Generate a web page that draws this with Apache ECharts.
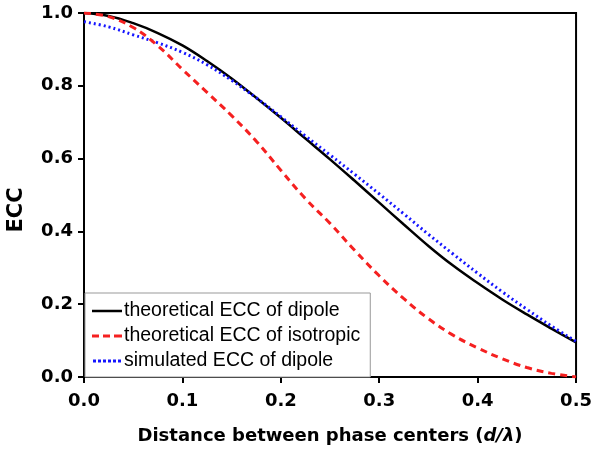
<!DOCTYPE html>
<html>
<head>
<meta charset="utf-8">
<script src="https://cdn.jsdelivr.net/npm/echarts@6/dist/echarts.min.js"></script>
<style>
  html, body { margin: 0; padding: 0; background: #fff; }
  #chart { width: 595px; height: 453px; }
</style>
</head>
<body>
<div id="chart"></div>
<script>
// distance between phase centers, d/lambda
const distance = [0, 0.025, 0.05, 0.075, 0.1, 0.125, 0.15, 0.175, 0.2, 0.225, 0.25,
  0.275, 0.3, 0.325, 0.35, 0.375, 0.4, 0.425, 0.45, 0.475, 0.5]
const eccDipole = [1.0, 0.992, 0.972, 0.945, 0.911, 0.868, 0.82, 0.767, 0.712, 0.655, 0.598,
  0.539, 0.479, 0.419, 0.36, 0.306, 0.258, 0.213, 0.172, 0.133, 0.095]
const eccIsotropic = [1.0, 0.99, 0.96, 0.91, 0.845, 0.782, 0.718, 0.648, 0.568, 0.49, 0.422,
  0.348, 0.278, 0.215, 0.16, 0.115, 0.08, 0.05, 0.026, 0.01, 0.0]
const eccSimulated = [0.976, 0.962, 0.94, 0.918, 0.892, 0.858, 0.815, 0.767, 0.715, 0.662, 0.61,
  0.557, 0.503, 0.448, 0.392, 0.338, 0.285, 0.234, 0.186, 0.14, 0.098]
const seriesNames = ['theoretical ECC of dipole', 'theoretical ECC of isotropic', 'simulated ECC of dipole']

function pairs (vals) {
  return distance.map((d, i) => [d, vals[i]])
}

const chart = echarts.init(document.getElementById('chart'))
const tickFont = { fontFamily: 'DejaVu Sans', fontWeight: 'bold', fontSize: 18, color: '#000' }

chart.setOption({
  backgroundColor: '#fff',
  animation: false,
  grid: {
    left: 84,
    right: 18,
    top: 13,
    bottom: 76,
    show: true,
    borderColor: '#000',
    borderWidth: 2
  },
  legend: {
    left: 85,
    bottom: 76,
    orient: 'vertical',
    data: [
      { name: seriesNames[0], icon: 'path://M0,0h30v2.5h-30z' },
      { name: seriesNames[1], icon: 'path://M0,0h7v3h-7zM11,0h7v3h-7zM22,0h8v3h-8z' },
      { name: seriesNames[2], icon: 'path://M0,0h3v3h-3zM5,0h3v3h-3zM10,0h3v3h-3zM15,0h3v3h-3zM20,0h3v3h-3zM25,0h3v3h-3z' }
    ],
    itemWidth: 30,
    itemHeight: 3,
    itemGap: 5,
    padding: [8, 10, 6, 7],
    backgroundColor: '#fff',
    borderColor: '#999',
    borderWidth: 1,
    textStyle: { fontFamily: 'Liberation Sans', fontSize: 19.5, color: '#000', padding: [0, 0, 0, -3] }
  },
  xAxis: {
    type: 'value',
    min: 0,
    max: 0.5,
    interval: 0.1,
    name: '{b|Distance between phase centers (}{i|d/λ}{b|)}',
    nameLocation: 'middle',
    nameGap: 50,
    nameTextStyle: {
      rich: {
        b: { fontFamily: 'DejaVu Sans', fontWeight: 'bold', fontSize: 18, color: '#000' },
        i: { fontFamily: 'DejaVu Sans', fontWeight: 'bold', fontStyle: 'italic', fontSize: 18, color: '#000' }
      }
    },
    axisLine: { onZero: false, lineStyle: { color: '#000', width: 2 } },
    axisTick: { inside: false, length: 6, lineStyle: { color: '#000', width: 2 } },
    axisLabel: Object.assign({ margin: 15, formatter: v => v.toFixed(1) }, tickFont),
    splitLine: { show: false }
  },
  yAxis: {
    type: 'value',
    min: 0,
    max: 1,
    interval: 0.2,
    axisLine: { show: true, onZero: false, lineStyle: { color: '#000', width: 2 } },
    axisTick: { show: true, inside: false, length: 6, lineStyle: { color: '#000', width: 2 } },
    axisLabel: Object.assign({ margin: 11, formatter: v => v.toFixed(1) }, tickFont),
    splitLine: { show: false }
  },
  graphic: [{
    type: 'text',
    x: 17,
    y: 210,
    rotation: Math.PI / 2,
    style: {
      text: 'ECC',
      fontFamily: 'DejaVu Sans',
      fontWeight: 'bold',
      fontSize: 21,
      fill: '#000',
      align: 'center',
      verticalAlign: 'middle'
    }
  }],
  series: [
    {
      name: seriesNames[0],
      type: 'line',
      data: pairs(eccDipole),
      symbol: 'none',
      smooth: 0.4,
      z: 2,
      lineStyle: { color: '#000', width: 2.5 },
      itemStyle: { color: '#000' }
    },
    {
      name: seriesNames[2],
      type: 'line',
      data: pairs(eccSimulated),
      symbol: 'none',
      smooth: 0.4,
      z: 3,
      lineStyle: { color: '#1515ff', width: 3, type: [2, 3] },
      itemStyle: { color: '#1515ff' }
    },
    {
      name: seriesNames[1],
      type: 'line',
      data: pairs(eccIsotropic),
      symbol: 'none',
      smooth: 0.4,
      z: 4,
      lineStyle: { color: '#f52020', width: 3, type: [7, 5] },
      itemStyle: { color: '#f52020' }
    }
  ]
})
</script>
</body>
</html>
